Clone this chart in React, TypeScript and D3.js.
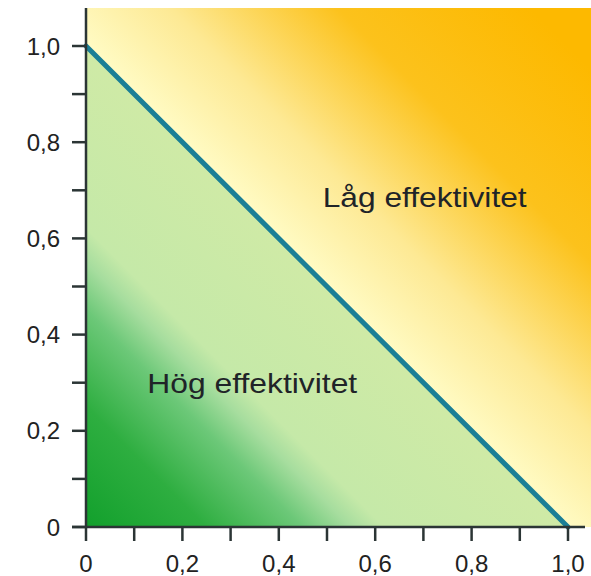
import React from 'react';
import * as d3 from 'd3';

const xTicks = [0, 0.2, 0.4, 0.6, 0.8, 1.0];
const yTicks = [0, 0.2, 0.4, 0.6, 0.8, 1.0];
const minorTicks = [0.1, 0.3, 0.5, 0.7, 0.9];
const boundary = [
  { x: 0, y: 1 },
  { x: 1, y: 0 },
];
const regionLabels = [
  { text: 'Låg effektivitet', x: 0.491, y: 0.665, len: 204 },
  { text: 'Hög effektivitet', x: 0.127, y: 0.278, len: 210 },
];

const fmt = (v: number) => (v === 0 ? '0' : d3.format('.1f')(v).replace('.', ','));

const App: React.FC = () => {
  const width = 591;
  const height = 576;
  const x = d3.scaleLinear().domain([0, 1]).range([86, 568]);
  const y = d3.scaleLinear().domain([0, 1]).range([527, 46]);
  const top = 8;
  const right = 591;
  const axisColor = '#2b3535';

  const line = d3
    .line<{ x: number; y: number }>()
    .x((d) => x(d.x))
    .y((d) => y(d.y));

  const triangle = `M${x(0)},${y(0)}L${x(0)},${y(1)}L${x(1)},${y(0)}Z`;

  return (
    <svg
      width={width}
      height={height}
      style={{ position: 'absolute', left: 0, top: 0 }}
      fontFamily="Liberation Sans, Arial, sans-serif"
    >
      <defs>
        <linearGradient
          id="bg"
          gradientUnits="userSpaceOnUse"
          x1={x(0.5)}
          y1={y(0.5)}
          x2={x(1)}
          y2={y(1)}
        >
          <stop offset="0" stopColor="#fffbc4" />
          <stop offset="0.25" stopColor="#fde994" />
          <stop offset="0.6" stopColor="#fcc21c" />
          <stop offset="1" stopColor="#fdb900" />
        </linearGradient>
        <linearGradient
          id="green"
          gradientUnits="userSpaceOnUse"
          x1={x(0)}
          y1={y(0)}
          x2={x(0.5)}
          y2={y(0.5)}
        >
          <stop offset="0" stopColor="#12a02c" />
          <stop offset="0.25" stopColor="#2eae40" />
          <stop offset="0.45" stopColor="#6cc878" />
          <stop offset="0.55" stopColor="#a6dd9e" />
          <stop offset="0.62" stopColor="#c5e9a8" />
          <stop offset="1" stopColor="#cfeaa6" />
        </linearGradient>
      </defs>

      <rect x={x(0)} y={top} width={right - x(0)} height={y(0) - top} fill="url(#bg)" />
      <path d={triangle} fill="url(#green)" />
      <path
        d={line(boundary) ?? ''}
        fill="none"
        stroke="#1a7f96"
        strokeWidth={5}
        strokeLinecap="round"
      />

      {regionLabels.map((l) => (
        <text
          key={l.text}
          x={x(l.x)}
          y={y(l.y)}
          fontSize={28}
          textLength={l.len}
          lengthAdjust="spacingAndGlyphs"
          fill="#1f2428"
        >
          {l.text}
        </text>
      ))}

      {/* axes */}
      <line x1={x(0)} x2={x(0)} y1={top} y2={y(0)} stroke={axisColor} strokeWidth={2.5} />
      <line x1={x(0) - 14} x2={585} y1={y(0)} y2={y(0)} stroke={axisColor} strokeWidth={2.5} />

      {yTicks.map((t) => (
        <g key={'y' + t}>
          <line x1={x(0) - 14} x2={x(0)} y1={y(t)} y2={y(t)} stroke={axisColor} strokeWidth={2.5} />
          <text x={60} y={y(t) + 8.5} textAnchor="end" fontSize={24} fill="#222">
            {fmt(t)}
          </text>
        </g>
      ))}
      {minorTicks.map((t) => (
        <line key={'ym' + t} x1={x(0) - 14} x2={x(0)} y1={y(t)} y2={y(t)} stroke={axisColor} strokeWidth={2.5} />
      ))}

      {xTicks.map((t) => (
        <g key={'x' + t}>
          <line x1={x(t)} x2={x(t)} y1={y(0)} y2={y(0) + 14} stroke={axisColor} strokeWidth={2.5} />
          <text x={x(t)} y={572} textAnchor="middle" fontSize={24} fill="#222">
            {fmt(t)}
          </text>
        </g>
      ))}
      {minorTicks.map((t) => (
        <line key={'xm' + t} x1={x(t)} x2={x(t)} y1={y(0)} y2={y(0) + 14} stroke={axisColor} strokeWidth={2.5} />
      ))}
    </svg>
  );
};

export default App;
